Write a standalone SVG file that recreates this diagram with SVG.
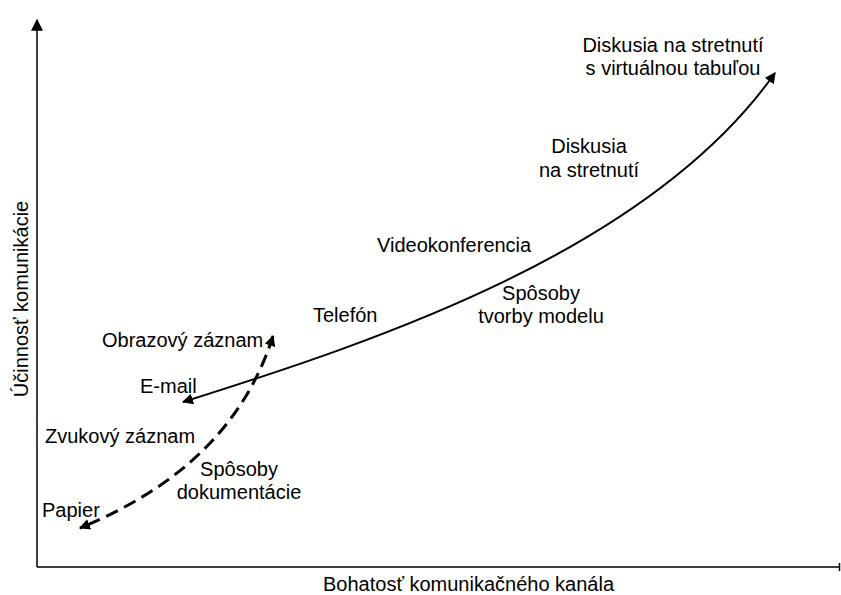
<svg xmlns="http://www.w3.org/2000/svg" width="841" height="595" viewBox="0 0 841 595">
<style>
text{font-family:"Liberation Sans",Arial,sans-serif;font-size:20px;fill:#000}
.ax{stroke:#000;stroke-width:1.5;fill:none}
.c{stroke:#000;stroke-width:2;fill:none}
.d{stroke:#000;stroke-width:3;fill:none;stroke-dasharray:13 7}
</style>
<defs>
<marker id="ah" viewBox="0 0 10 10" refX="9" refY="5" markerWidth="11" markerHeight="11" markerUnits="userSpaceOnUse" orient="auto-start-reverse"><path d="M0,0 L10,5 L0,10 z" fill="#000"/></marker>
<marker id="ah2" viewBox="0 0 10 10" refX="9" refY="5" markerWidth="12" markerHeight="12" markerUnits="userSpaceOnUse" orient="auto"><path d="M0,0 L10,5 L0,10 z" fill="#000"/></marker>
</defs>
<g id="axes">
<path class="ax" d="M37,567 L37,20" marker-end="url(#ah2)"/>
<path class="ax" d="M37,567 L839,567 M839.5,563 L839.5,571"/>
<text x="323" y="591">Bohatosť komunikačného kanála</text>
<text transform="translate(28,299) rotate(-90)" text-anchor="middle">Účinnosť komunikácie</text>
</g>
<g id="connectors">
<path class="c" d="M775,73 C650,250 380,340 183,402" marker-start="url(#ah)" marker-end="url(#ah)"/>
<path class="d" d="M273,336 C240,440 160,495 80,528" marker-start="url(#ah)" marker-end="url(#ah)"/>
</g>
<g id="n1"><text x="673" y="52" text-anchor="middle">Diskusia na stretnutí</text><text x="673" y="75" text-anchor="middle">s virtuálnou tabuľou</text></g>
<g id="n2"><text x="589" y="153" text-anchor="middle">Diskusia</text><text x="589" y="177" text-anchor="middle">na stretnutí</text></g>
<g id="n3"><text x="377" y="252">Videokonferencia</text></g>
<g id="n4"><text x="313" y="322">Telefón</text></g>
<g id="n5"><text x="541" y="300" text-anchor="middle">Spôsoby</text><text x="541" y="323" text-anchor="middle">tvorby modelu</text></g>
<g id="n6"><text x="102" y="347">Obrazový záznam</text></g>
<g id="n7"><text x="140" y="393">E-mail</text></g>
<g id="n8"><text x="45" y="443">Zvukový záznam</text></g>
<g id="n9"><text x="239" y="476" text-anchor="middle">Spôsoby</text><text x="239" y="499" text-anchor="middle">dokumentácie</text></g>
<g id="n10"><text x="42" y="517">Papier</text></g>
</svg>
